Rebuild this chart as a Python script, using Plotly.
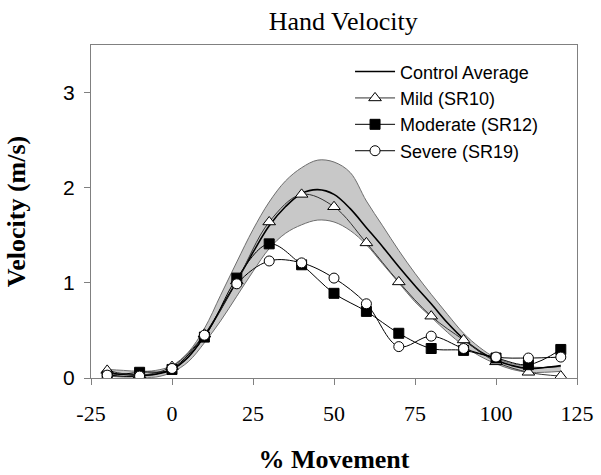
import plotly.graph_objects as go

# ---- data ----
ctrl_x = [-20, -15, -10, -5, 0, 5, 10, 15, 20, 25, 30, 35, 40, 45, 50, 55, 60, 65, 70,
          75, 80, 85, 90, 95, 100, 105, 110, 115, 120]
ctrl_mean = [0.05, 0.04, 0.03, 0.04, 0.09, 0.22, 0.44, 0.72, 1.02, 1.32, 1.60, 1.80, 1.94,
             1.98, 1.93, 1.78, 1.58, 1.38, 1.17, 0.97, 0.78, 0.58, 0.41, 0.28, 0.19, 0.13,
             0.10, 0.11, 0.13]
ctrl_upper = [0.09, 0.08, 0.07, 0.08, 0.13, 0.27, 0.52, 0.87, 1.22, 1.56, 1.85, 2.07, 2.21,
              2.29, 2.27, 2.16, 1.86, 1.60, 1.34, 1.10, 0.88, 0.67, 0.47, 0.32, 0.21, 0.15,
              0.12, 0.11, 0.12]
ctrl_lower = [0.02, 0.01, 0.01, 0.01, 0.06, 0.17, 0.37, 0.60, 0.86, 1.12, 1.36, 1.52, 1.61,
              1.66, 1.64, 1.55, 1.40, 1.20, 1.00, 0.80, 0.64, 0.48, 0.34, 0.23, 0.15, 0.09,
              0.06, 0.06, 0.07]

pt_x = [-20, -10, 0, 10, 20, 30, 40, 50, 60, 70, 80, 90, 100, 110, 120]
mild = [0.08, 0.03, 0.12, 0.46, 1.02, 1.64, 1.93, 1.80, 1.42, 1.01, 0.65, 0.40, 0.17, 0.06, 0.02]
moderate = [0.02, 0.06, 0.09, 0.43, 1.05, 1.41, 1.19, 0.89, 0.70, 0.47, 0.31, 0.29, 0.21, 0.14, 0.30]
severe = [0.03, 0.02, 0.10, 0.45, 0.99, 1.23, 1.21, 1.05, 0.78, 0.33, 0.44, 0.31, 0.22, 0.21, 0.22]

x_ticks = [-25, 0, 25, 50, 75, 100, 125]
y_ticks = [0, 1, 2, 3]

serif = "Liberation Serif, Times New Roman, serif"
sans = "Liberation Sans, Arial, sans-serif"

fig = go.Figure()

# band
fig.add_trace(go.Scatter(x=ctrl_x, y=ctrl_upper, mode="lines",
                         line=dict(color="#6e6e6e", width=1, shape="spline"),
                         showlegend=False, hoverinfo="skip"))
fig.add_trace(go.Scatter(x=ctrl_x, y=ctrl_lower, mode="lines", fill="tonexty",
                         fillcolor="#c8c8c8",
                         line=dict(color="#6e6e6e", width=1, shape="spline"),
                         showlegend=False, hoverinfo="skip"))

fig.add_trace(go.Scatter(x=ctrl_x, y=ctrl_mean, mode="lines", name="Control Average",
                         line=dict(color="black", width=1.6, shape="spline")))
fig.add_trace(go.Scatter(x=pt_x, y=mild, mode="lines+markers", name="Mild (SR10)",
                         line=dict(color="#333333", width=1, shape="spline"),
                         marker=dict(symbol="triangle-up", size=11, color="white",
                                     line=dict(color="black", width=1))))
fig.add_trace(go.Scatter(x=pt_x, y=moderate, mode="lines+markers", name="Moderate (SR12)",
                         line=dict(color="black", width=1, shape="spline"),
                         marker=dict(symbol="square", size=10, color="black",
                                     line=dict(color="black", width=1))))
fig.add_trace(go.Scatter(x=pt_x, y=severe, mode="lines+markers", name="Severe (SR19)",
                         line=dict(color="black", width=1, shape="spline"),
                         marker=dict(symbol="circle", size=10, color="white",
                                     line=dict(color="black", width=1))))

fig.update_layout(
    width=601, height=475,
    margin=dict(l=91, r=24, t=45, b=97, autoexpand=False),
    paper_bgcolor="white", plot_bgcolor="white",
    title=dict(text="Hand Velocity", x=0.519, xref="paper", xanchor="center",
               y=0.956, yanchor="middle",
               font=dict(family=serif, size=26, color="black")),
    legend=dict(x=0.533, y=0.975, xanchor="left", yanchor="top",
                font=dict(family=sans, size=18, color="black"),
                bgcolor="rgba(0,0,0,0)", tracegroupgap=0, itemwidth=40,
                traceorder="normal"),
    showlegend=True,
)
fig.update_xaxes(range=[-25, 125], tickvals=x_ticks, ticktext=[str(v) for v in x_ticks],
                 showgrid=False, zeroline=False, showline=True, linecolor="#808080",
                 linewidth=1, mirror=True, ticks="outside", ticklen=6, tickcolor="#808080",
                 automargin=False, ticklabelstandoff=10,
                 tickfont=dict(family=serif, size=22, color="black"),
                 title=dict(text="<b>% Movement</b>", standoff=24,
                            font=dict(family=serif, size=26, color="black")))
fig.update_yaxes(range=[0, 3.5], tickvals=y_ticks, showgrid=False, zeroline=False,
                 showline=True, linecolor="#808080", linewidth=1, mirror=True,
                 ticks="outside", ticklen=6, tickcolor="#808080",
                 automargin=False, ticklabelstandoff=5,
                 tickfont=dict(family=sans, size=21, color="black"),
                 title=dict(text="<b>Velocity (m/s)</b>", standoff=30,
                            font=dict(family=serif, size=26, color="black")))

fig.write_html("out.html",
               config={"displayModeBar": False},
               post_script="document.body.style.margin='0';document.body.style.overflow='hidden';")
